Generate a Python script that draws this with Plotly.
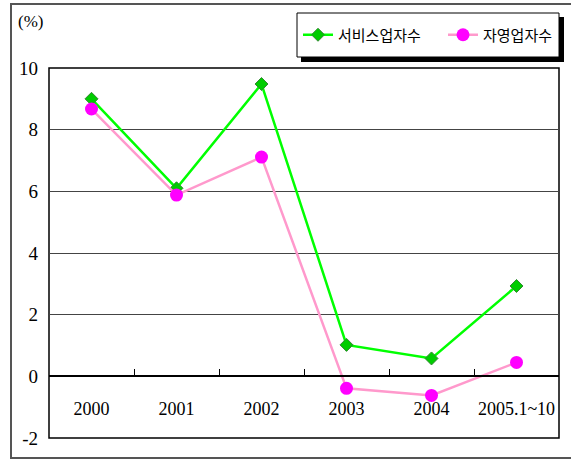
import plotly.graph_objects as go

categories = ["2000", "2001", "2002", "2003", "2004", "2005.1~10"]
service_workers = [9.0, 6.1, 9.48, 1.02, 0.58, 2.93]
self_employed = [8.67, 5.88, 7.11, -0.39, -0.62, 0.45]
series_names = ["서비스업자수", "자영업자수"]
y_ticks = [-2, 0, 2, 4, 6, 8, 10]
y_tick_labels = ["-2", "0", "2", "4", "6", "8", "10"]

W, H = 571, 459
L, R, T, B = 49, 559, 68, 438
pw, ph = R - L, B - T

def px(x):
    return (x - L) / pw

def py(y):
    return (B - y) / ph

SERIF = "Liberation Serif, DejaVu Serif, serif"

fig = go.Figure()
fig.add_trace(go.Scatter(
    x=categories, y=service_workers, name=series_names[0], mode="lines+markers",
    line=dict(color="#00FF00", width=2.5),
    marker=dict(symbol="diamond", size=10, color="#00CC00", line=dict(color="#338833", width=1)),
))
fig.add_trace(go.Scatter(
    x=categories, y=self_employed, name=series_names[1], mode="lines+markers",
    line=dict(color="#FF99CC", width=2.5),
    marker=dict(symbol="circle", size=13, color="#FF00FF", line=dict(width=0)),
))

shapes = [
    # outer frame
    dict(type="rect", xref="paper", yref="paper", x0=px(11), x1=px(580), y0=py(458), y1=py(4),
         line=dict(color="#555555", width=2), layer="below"),
    # plot frame
    dict(type="rect", xref="paper", yref="paper", x0=0, x1=1, y0=0, y1=1,
         line=dict(color="black", width=1.5), layer="below"),
    # legend shadow
    dict(type="rect", xref="paper", yref="paper", x0=px(301), x1=px(564), y0=py(62), y1=py(17),
         line=dict(width=0), fillcolor="black", layer="below"),
    # legend box
    dict(type="rect", xref="paper", yref="paper", x0=px(297), x1=px(559), y0=py(57), y1=py(13),
         line=dict(width=1, color="black"), fillcolor="white", layer="below"),
]

fig.update_layout(
    width=W, height=H,
    margin=dict(l=L, r=W - R, t=T, b=H - B, autoexpand=False),
    paper_bgcolor="white", plot_bgcolor="white",
    showlegend=True,
    legend=dict(orientation="h", x=px(298), y=py(35), xanchor="left", yanchor="middle",
                bgcolor="rgba(0,0,0,0)", borderwidth=0,
                font=dict(family="Noto Sans CJK KR", size=15, color="black"),
                itemwidth=30, tracegroupgap=0, entrywidth=100, entrywidthmode="pixels"),
    shapes=shapes,
    annotations=[dict(text="(%)", xref="paper", yref="paper", x=px(16), y=py(22),
                      xanchor="left", yanchor="middle", showarrow=False,
                      font=dict(family=SERIF, size=17, color="black"))],
    xaxis=dict(type="category", range=[-0.5, 5.5], anchor="free", position=2 / 12,
               showline=True, linecolor="black", linewidth=1.5, automargin=False,
               ticks="inside", tickson="boundaries", ticklen=7, tickcolor="black",
               showgrid=False, ticklabelstandoff=16, tickangle=0,
               tickfont=dict(family=SERIF, size=18, color="black")),
    yaxis=dict(range=[-2, 10], tickvals=y_ticks, ticktext=y_tick_labels,
               showgrid=True, gridcolor="#444444", gridwidth=1,
               zeroline=False, showline=False, ticks="", ticklabelstandoff=10, automargin=False,
               tickfont=dict(family=SERIF, size=19, color="black")),
)

fig.write_html("out.html", config={"displayModeBar": False},
               post_script="document.body.style.margin='0';document.body.style.overflow='hidden';")
